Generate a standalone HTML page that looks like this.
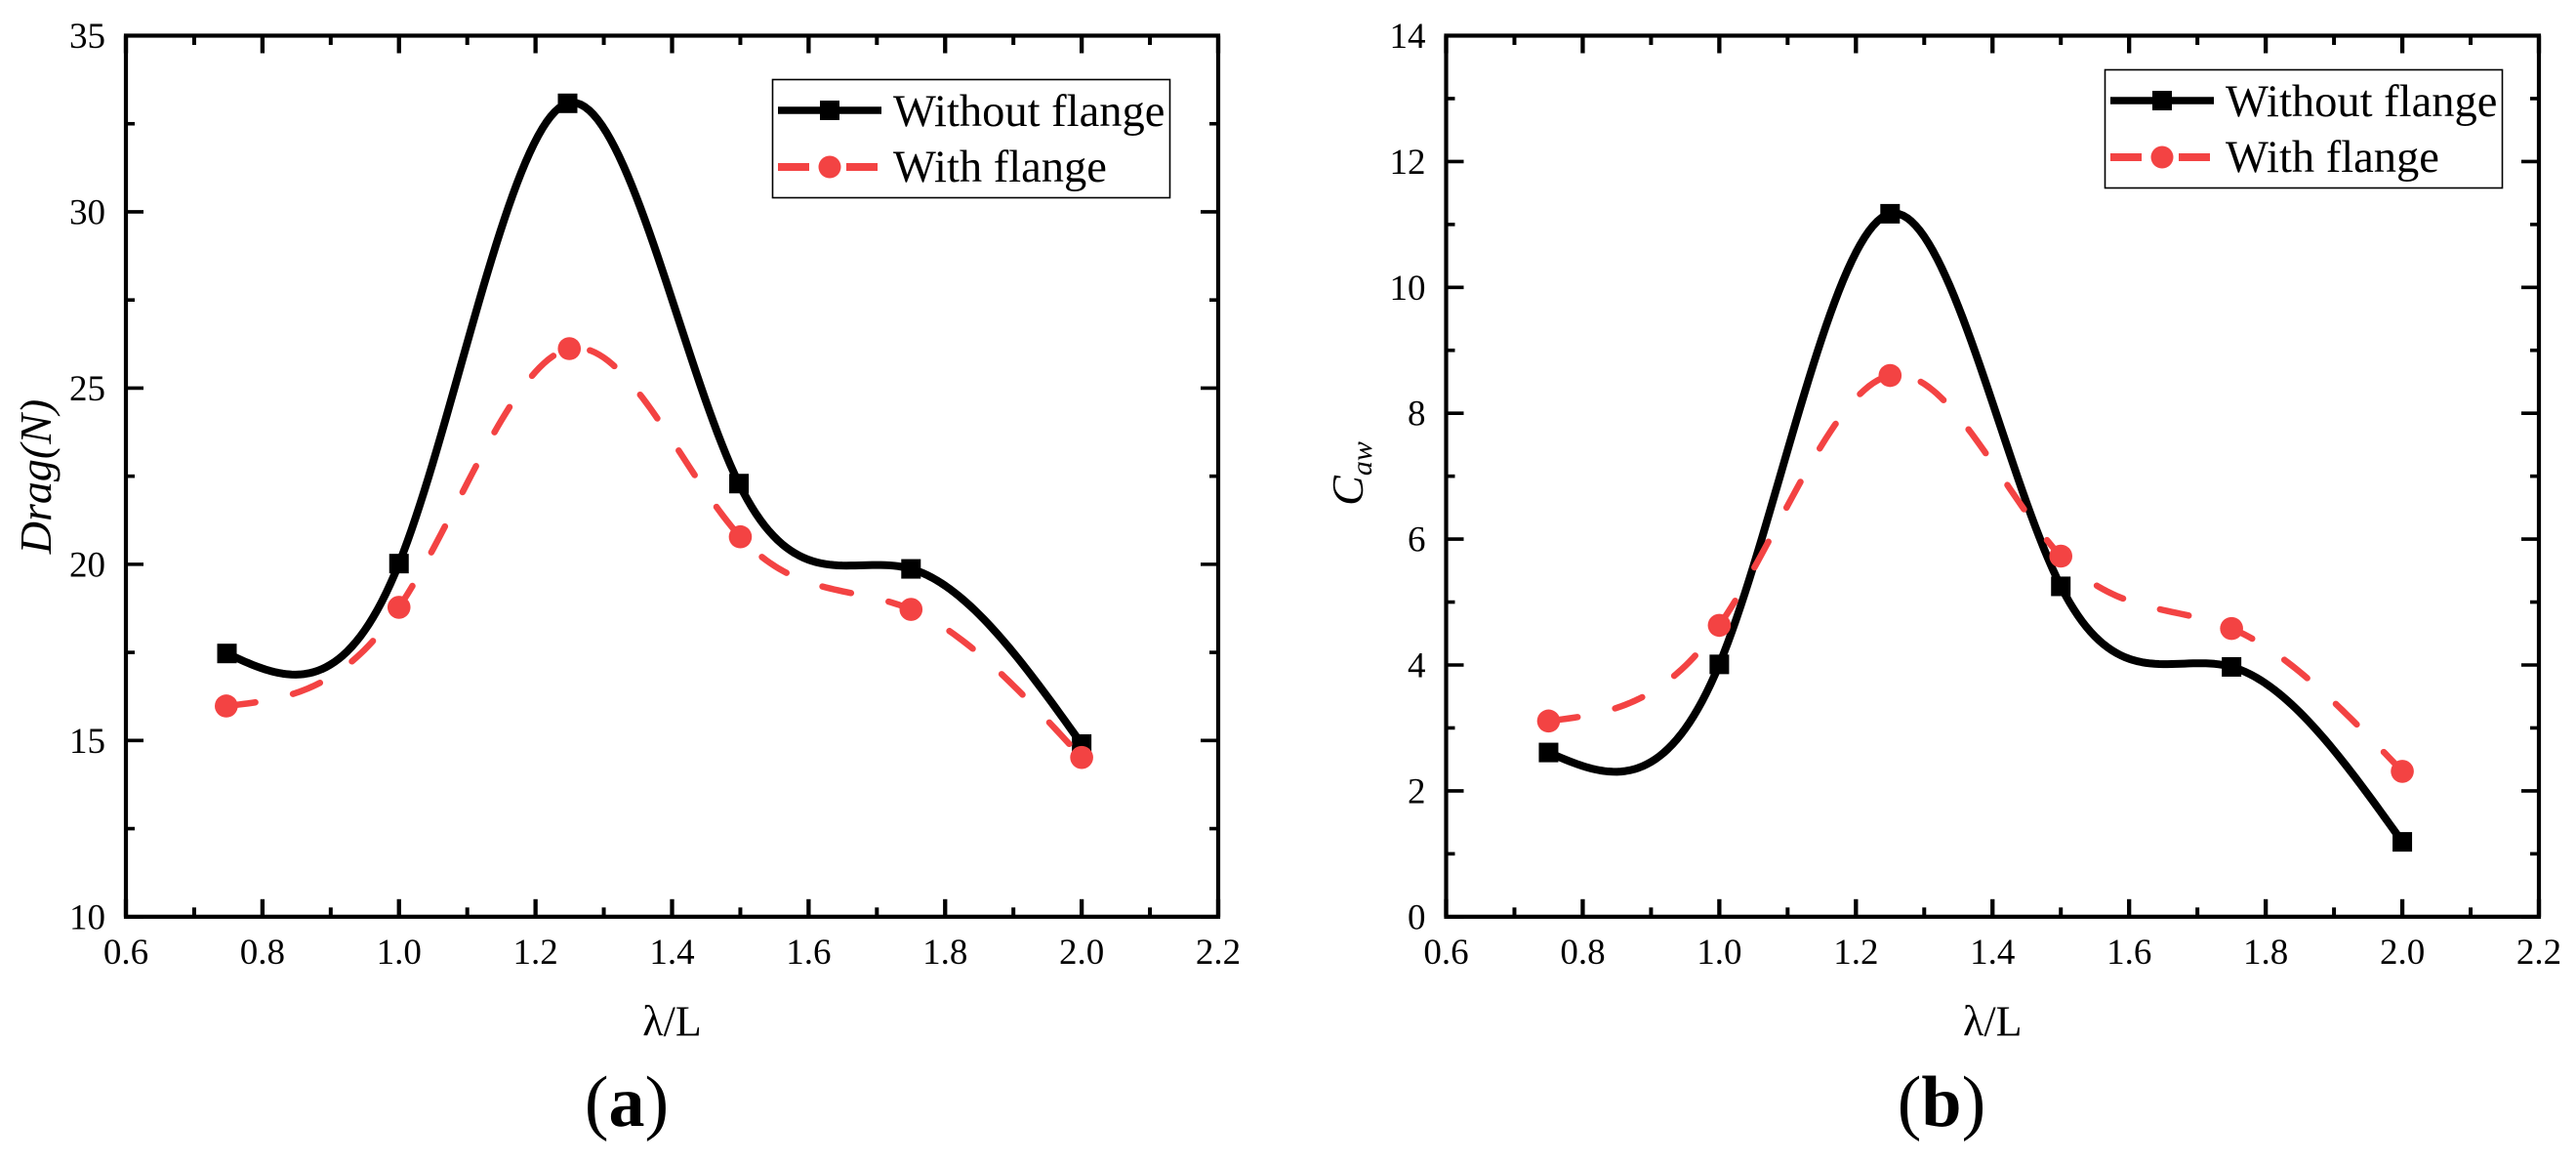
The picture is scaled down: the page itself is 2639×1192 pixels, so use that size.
<!DOCTYPE html>
<html>
<head>
<meta charset="utf-8">
<title>Drag and Caw vs wavelength</title>
<style>
html,body{margin:0;padding:0;background:#fff;}
svg{display:block;}
text{font-family:"Liberation Serif","DejaVu Serif",serif;fill:#000;}
</style>
</head>
<body>
<svg id="figure" xmlns="http://www.w3.org/2000/svg" width="2639" height="1192" viewBox="0 0 2639 1192"></svg>
<script>
// ---- chart data ----
const dragWithoutLambda = [0.748, 1.0, 1.247, 1.498, 1.75, 2.0];
const dragWithLambda = [0.747, 1.0, 1.2495, 1.5, 1.75, 2.0];
const cawLambda = [0.75, 1.0, 1.25, 1.5, 1.75, 2.0];
const dragWithout = [17.47, 20.02, 33.08, 22.29, 19.87, 14.9];
const dragWith = [15.98, 18.78, 26.12, 20.78, 18.72, 14.52];
const cawWithout = [2.61, 4.01, 11.17, 5.25, 3.97, 1.19];
const cawWith = [3.11, 4.63, 8.6, 5.73, 4.58, 2.31];
const xTickValues = [0.6, 0.8, 1.0, 1.2, 1.4, 1.6, 1.8, 2.0, 2.2];
const xMinorValues = [0.7, 0.9, 1.1, 1.3, 1.5, 1.7, 1.9, 2.1];
const dragTickValues = [10, 15, 20, 25, 30, 35];
const dragMinorValues = [12.5, 17.5, 22.5, 27.5, 32.5];
const cawTickValues = [0, 2, 4, 6, 8, 10, 12, 14];
const cawMinorValues = [1, 3, 5, 7, 9, 11, 13];
const legendLabels = ['Without flange', 'With flange'];

const RED = '#f34343';
const svg = document.getElementById('figure');
const NS = 'http://www.w3.org/2000/svg';

function make(tag, parent, props) {
  const el = document.createElementNS(NS, tag);
  for (const k in props) el.setAttribute(k, props[k]);
  if (parent) parent.appendChild(el);
  return el;
}

// natural cubic spline through the data points
function splinePath(xs, ys, sx, sy) {
  const n = xs.length;
  const h = [], a = new Array(n).fill(0), b = new Array(n).fill(1), c = new Array(n).fill(0), d = new Array(n).fill(0);
  for (let i = 0; i < n - 1; i++) h.push(xs[i + 1] - xs[i]);
  for (let i = 1; i < n - 1; i++) {
    a[i] = h[i - 1];
    b[i] = 2 * (h[i - 1] + h[i]);
    c[i] = h[i];
    d[i] = 6 * ((ys[i + 1] - ys[i]) / h[i] - (ys[i] - ys[i - 1]) / h[i - 1]);
  }
  for (let i = 1; i < n; i++) {
    const m = a[i] / b[i - 1];
    b[i] -= m * c[i - 1];
    d[i] -= m * d[i - 1];
  }
  const M = new Array(n).fill(0);
  M[n - 1] = d[n - 1] / b[n - 1];
  for (let i = n - 2; i >= 0; i--) M[i] = (d[i] - c[i] * M[i + 1]) / b[i];
  let path = 'M' + sx(xs[0]).toFixed(2) + ' ' + sy(ys[0]).toFixed(2);
  for (let i = 0; i < n - 1; i++) {
    for (let s = 1; s <= 40; s++) {
      const t = s / 40, x = xs[i] + t * h[i];
      const A = 1 - t, B = t;
      const y = A * ys[i] + B * ys[i + 1] + ((A * A * A - A) * M[i] + (B * B * B - B) * M[i + 1]) * h[i] * h[i] / 6;
      path += 'L' + sx(x).toFixed(2) + ' ' + sy(y).toFixed(2);
    }
  }
  return path;
}

function drawPanel(cfg) {
  const g = make('g', svg, {});
  
  
  const sx = v => cfg.left + (v - 0.6) / 1.6 * (cfg.right - cfg.left);
  const sy = v => cfg.bottom - (v - cfg.yMin) / (cfg.yMax - cfg.yMin) * (cfg.bottom - cfg.top);

  // ticks (all inward on four sides)
  function xTick(v, len, w, nameTag) {
    [[cfg.bottom, cfg.bottom - len], [cfg.top, cfg.top + len]].forEach(p => {
      const t = make('line', g, {x1: sx(v), x2: sx(v), y1: p[0], y2: p[1], stroke: '#000', 'stroke-width': w});
      
      
    });
  }
  function yTick(v, len, w, nameTag) {
    [[cfg.left, cfg.left + len], [cfg.right, cfg.right - len]].forEach(p => {
      const t = make('line', g, {y1: sy(v), y2: sy(v), x1: p[0], x2: p[1], stroke: '#000', 'stroke-width': w});
      
      
    });
  }
  xTickValues.forEach(v => xTick(v, 18, 4.3, 'x-major-tick'));
  xMinorValues.forEach(v => xTick(v, 9.5, 4, 'x-minor-tick'));
  cfg.yTicks.forEach(v => yTick(v, 18, 3.6, 'y-major-tick'));
  cfg.yMinor.forEach(v => yTick(v, 9, 3.6, 'y-minor-tick'));

  // plot frame
  const frame = make('rect', g, {x: cfg.left, y: cfg.top, width: cfg.right - cfg.left, height: cfg.bottom - cfg.top, fill: 'none', stroke: '#000', 'stroke-width': 4.2});
  
  

  // tick labels
  xTickValues.forEach(v => {
    const t = make('text', g, {x: sx(v), y: 987, 'font-size': 37, 'text-anchor': 'middle'});
    t.textContent = v.toFixed(1);
    
    
  });
  cfg.yTicks.forEach(v => {
    const t = make('text', g, {x: cfg.left - 21, y: sy(v) + 12.5, 'font-size': 37, 'text-anchor': 'end'});
    t.textContent = String(v);
    
    
  });

  // x axis title
  const xt = make('text', g, {x: (cfg.left + cfg.right) / 2, y: 1060.5, 'font-size': 44, 'text-anchor': 'middle'});
  xt.textContent = 'λ/L';
  
  

  // y axis title
  const yt = make('text', g, {transform: 'translate(' + cfg.yTitleX + ' ' + cfg.yTitleY + ') rotate(-90)', 'font-size': 46, 'font-style': 'italic', 'text-anchor': 'middle'});
  
  
  const main = make('tspan', yt, {});
  main.textContent = cfg.yTitle;
  if (cfg.yTitleSub) {
    const sub = make('tspan', yt, {'font-size': 30, dy: 9});
    sub.textContent = cfg.yTitleSub;
  }

  // series: black solid
  const blackLine = make('path', g, {d: splinePath(cfg.withoutX, cfg.without, sx, sy), fill: 'none', stroke: '#000', 'stroke-width': 8, 'stroke-linejoin': 'round'});
  
  
  cfg.withoutX.forEach((x, i) => {
    const m = make('rect', g, {x: sx(x) - 10, y: sy(cfg.without[i]) - 10, width: 20, height: 20, fill: '#000'});
    
    
  });

  // series: red dashed
  const redLine = make('path', g, {d: splinePath(cfg.withX, cfg.withF, sx, sy), fill: 'none', stroke: RED, 'stroke-width': 6.5, 'stroke-linecap': 'round', 'stroke-dasharray': '30 39.5'});
  
  
  cfg.withX.forEach((x, i) => {
    const m = make('circle', g, {cx: sx(x), cy: sy(cfg.withF[i]), r: 11.8, fill: RED});
    
    
  });

  // legend
  const lx = cfg.legendX, ly = cfg.legendY;
  const leg = make('g', g, {});
  
  
  const box = make('rect', leg, {x: lx + 0.5, y: ly + 0.5, width: 407, height: 121, fill: '#fff', stroke: '#000', 'stroke-width': 1.6});
  
  
  const k1 = make('line', leg, {x1: lx + 6, x2: lx + 112, y1: ly + 32, y2: ly + 32, stroke: '#000', 'stroke-width': 7.5});
  
  
  const k1m = make('rect', leg, {x: lx + 49, y: ly + 22, width: 20, height: 20, fill: '#000'});
  
  
  const k2a = make('line', leg, {x1: lx + 6, x2: lx + 38, y1: ly + 90, y2: ly + 90, stroke: RED, 'stroke-width': 8});
  
  
  const k2b = make('line', leg, {x1: lx + 76, x2: lx + 108, y1: ly + 90, y2: ly + 90, stroke: RED, 'stroke-width': 8});
  
  
  const k2m = make('circle', leg, {cx: lx + 59, cy: ly + 90, r: 11.5, fill: RED});
  
  
  const l1 = make('text', leg, {x: lx + 124, y: ly + 48, 'font-size': 46.5});
  l1.textContent = legendLabels[0];
  
  
  const l2 = make('text', leg, {x: lx + 124, y: ly + 105, 'font-size': 46.5});
  l2.textContent = legendLabels[1];
  
  

  // panel caption
  const cap = make('text', g, {x: cfg.capX, y: 1153, 'font-size': 74, 'text-anchor': 'middle'});
  
  
  const p1 = make('tspan', cap, {});
  p1.textContent = '(';
  const p2 = make('tspan', cap, {'font-weight': 'bold'});
  p2.textContent = cfg.capLetter;
  const p3 = make('tspan', cap, {});
  p3.textContent = ')';
}

drawPanel({
  id: 'drag', left: 129, right: 1248, top: 36.5, bottom: 938.8, yMin: 10, yMax: 35,
  yTicks: dragTickValues, yMinor: dragMinorValues, without: dragWithout, withF: dragWith,
  withoutX: dragWithoutLambda, withX: dragWithLambda,
  yTitle: 'Drag(N)', yTitleSub: '', yTitleX: 52, yTitleY: 488,
  legendX: 791, legendY: 81, capX: 642, capLetter: 'a'
});
drawPanel({
  id: 'caw', left: 1481.5, right: 2601, top: 36.5, bottom: 938.8, yMin: 0, yMax: 14,
  yTicks: cawTickValues, yMinor: cawMinorValues, without: cawWithout, withF: cawWith,
  withoutX: cawLambda, withX: cawLambda,
  yTitle: 'C', yTitleSub: 'aw', yTitleX: 1396, yTitleY: 485,
  legendX: 2156, legendY: 71, capX: 1989, capLetter: 'b'
});
</script>
</body>
</html>
